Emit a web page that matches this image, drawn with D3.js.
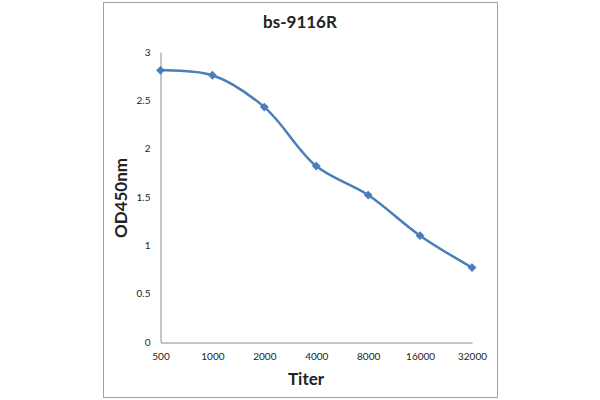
<!DOCTYPE html>
<html>
<head>
<meta charset="utf-8">
<script src="https://cdn.jsdelivr.net/npm/d3@7"></script>
<style>
body{margin:0;background:#fff;}
</style>
</head>
<body>
<div id="chart"></div>
<script>
var titers = ['500','1000','2000','4000','8000','16000','32000'];
var od450 = [2.81, 2.76, 2.43, 1.82, 1.52, 1.10, 0.77];
var yTicks = [0, 0.5, 1, 1.5, 2, 2.5, 3];

var width = 600, height = 400;
var font = 'Lato, "Open Sans", sans-serif';

var svg = d3.select('#chart')
    .append('svg')
    .attr('width', width)
    .attr('height', height);

// outer chart border
svg.append('rect')
    .attr('x', 103.5).attr('y', 2.5)
    .attr('width', 394).attr('height', 395)
    .attr('fill', 'none')
    .attr('stroke', '#a0a0a0')
    .attr('stroke-width', 1);

var x = d3.scalePoint()
    .domain(titers)
    .range([160.5, 472]);

var y = d3.scaleLinear()
    .domain([0, 3])
    .range([342, 52]);

// y axis
var yAxis = svg.append('g')
    .attr('transform', 'translate(160.5,0)')
    .call(d3.axisLeft(y).tickValues(yTicks).tickSize(0).tickPadding(10)
        .tickFormat(function(d){ return d; }));
yAxis.select('.domain').attr('stroke', '#8c8c8c');
yAxis.selectAll('text')
    .attr('font-family', font)
    .attr('font-size', 10)
    .attr('fill', '#222');

// x axis
var xAxis = svg.append('g')
    .attr('transform', 'translate(0,342.5)')
    .call(d3.axisBottom(x).tickSize(0).tickPadding(10));
xAxis.select('.domain').attr('stroke', '#8c8c8c');
xAxis.selectAll('text')
    .attr('font-family', font)
    .attr('font-size', 10)
    .attr('fill', '#222');

// smoothed line
var line = d3.line()
    .x(function(d, i){ return x(titers[i]); })
    .y(function(d){ return y(d); })
    .curve(d3.curveCatmullRom.alpha(0.5));

svg.append('path')
    .datum(od450)
    .attr('d', line)
    .attr('fill', 'none')
    .attr('stroke', '#4a7ebb')
    .attr('stroke-width', 2.5);

// diamond markers
svg.selectAll('.pt')
    .data(od450)
    .enter()
    .append('path')
    .attr('class', 'pt')
    .attr('d', d3.symbol().type(d3.symbolDiamond2).size(50))
    .attr('transform', function(d, i){
        return 'translate(' + x(titers[i]) + ',' + y(d) + ')';
    })
    .attr('fill', '#4a7ebb');

// titles
svg.append('text')
    .text('bs-9116R')
    .attr('x', 300).attr('y', 28)
    .attr('text-anchor', 'middle')
    .attr('font-family', font)
    .attr('font-weight', 'bold')
    .attr('font-size', 17)
    .attr('fill', '#222');

svg.append('text')
    .text('Titer')
    .attr('x', 306).attr('y', 385)
    .attr('text-anchor', 'middle')
    .attr('font-family', font)
    .attr('font-weight', 'bold')
    .attr('font-size', 17)
    .attr('fill', '#222');

svg.append('text')
    .text('OD450nm')
    .attr('transform', 'translate(127,198) rotate(-90)')
    .attr('text-anchor', 'middle')
    .attr('font-family', font)
    .attr('font-weight', 'bold')
    .attr('font-size', 17)
    .attr('fill', '#222');
</script>
</body>
</html>
